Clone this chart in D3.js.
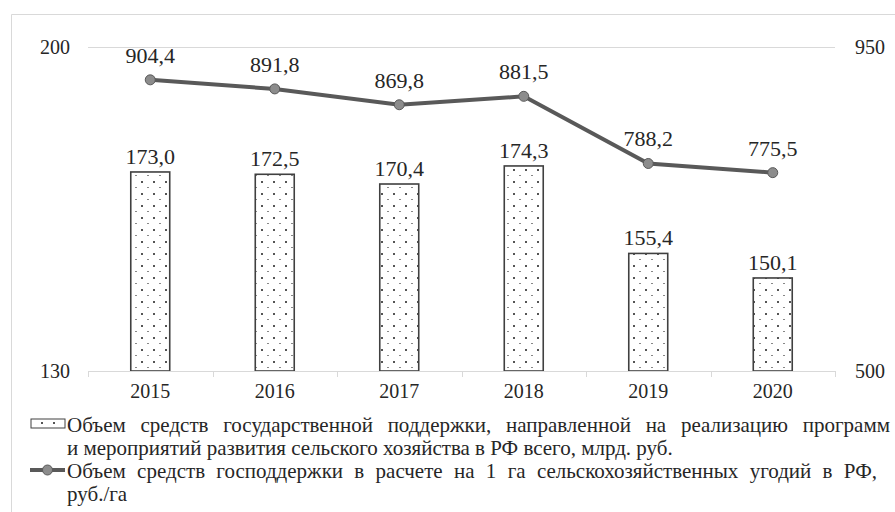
<html>
<head>
<script src="https://cdn.jsdelivr.net/npm/d3@7"></script>
<style>
  body { margin: 0; background: #fff; }
</style>
</head>
<body>
<svg id="chart"></svg>
<script>
// data
let years = ["2015", "2016", "2017", "2018", "2019", "2020"];
let support = [173.0, 172.5, 170.4, 174.3, 155.4, 150.1];   // млрд. руб.
let perHectare = [904.4, 891.8, 869.8, 881.5, 788.2, 775.5]; // руб./га
let leftTicks = [130, 200];
let rightTicks = [500, 950];
let legendBars = ["Объем средств государственной поддержки, направленной на реализацию программ",
                  "и мероприятий развития сельского хозяйства в РФ всего, млрд. руб."];
let legendLine = ["Объем средств господдержки в расчете на 1 га сельскохозяйственных угодий в РФ,",
                  "руб./га"];

let fmt = v => v.toFixed(1).replace(".", ",");
let FONT = "Liberation Serif";
let INK = "#262626";

// justify a legend line to a given width by widening the spaces between words
function justify(sel, target) {
  sel.each(function() {
    if (!target) return;
    let t = d3.select(this);
    let natural = this.getComputedTextLength();
    let spaces = (t.text().match(/ /g) || []).length;
    if (spaces > 0 && natural < target) t.attr("word-spacing", (target - natural) / spaces);
  });
}

function drawChart() {
  let width = 895, height = 512;
  let margin = { top: 47, left: 88, right: 60, bottom: 141 };
  let bodyWidth = width - margin.left - margin.right;   // 747
  let bodyHeight = height - margin.top - margin.bottom; // 324

  let svg = d3.select("#chart").attr("width", width).attr("height", height);

  // chart area frame (only top and left visible)
  svg.append("path")
    .attr("d", "M11.5,512 V14.5 H895")
    .attr("fill", "none").attr("stroke", "#d9d9d9").attr("stroke-width", 1);

  // dotted pattern for the bars
  let defs = svg.append("defs");
  let pat = defs.append("pattern").attr("id", "dots")
    .attr("patternUnits", "userSpaceOnUse")
    .attr("width", 12).attr("height", 12);
  pat.append("rect").attr("width", 12).attr("height", 12).attr("fill", "#fff");
  pat.append("rect").attr("x", 5).attr("y", 2).attr("width", 2).attr("height", 2).attr("fill", "#555");
  pat.append("rect").attr("x", 11).attr("y", 8).attr("width", 1).attr("height", 1).attr("fill", "#888");
  pat.append("rect").attr("x", 0).attr("y", 8).attr("width", 1).attr("height", 1).attr("fill", "#888");

  let xScale = d3.scaleBand().domain(years).range([0, bodyWidth]).padding(0);
  let yLeft = d3.scaleLinear().domain([130, 200]).range([bodyHeight, 0]);
  let yRight = d3.scaleLinear().domain([500, 950]).range([bodyHeight, 0]);

  let body = svg.append("g").attr("transform", `translate(${margin.left},${margin.top})`);

  // top gridline
  body.selectAll(".grid").data(leftTicks.slice(1)).enter().append("line")
    .attr("x1", 0).attr("x2", bodyWidth)
    .attr("y1", d => Math.round(yLeft(d)) + 0.5).attr("y2", d => Math.round(yLeft(d)) + 0.5)
    .attr("stroke", "#d9d9d9");

  // bars
  let barW = xScale.step() * 0.313;
  body.selectAll(".bar").data(support).enter().append("rect")
    .attr("x", (d, i) => xScale(years[i]) + xScale.step() / 2 - barW / 2)
    .attr("y", d => yLeft(d))
    .attr("width", barW)
    .attr("height", d => bodyHeight - yLeft(d))
    .attr("fill", "url(#dots)")
    .attr("stroke", "#404040").attr("stroke-width", 1.6);

  body.selectAll(".barLabel").data(support).enter().append("text")
    .attr("x", (d, i) => xScale(years[i]) + xScale.step() / 2)
    .attr("y", d => yLeft(d) - 8)
    .attr("text-anchor", "middle").attr("font-size", 22)
    .attr("font-family", FONT).attr("fill", INK)
    .text(fmt);

  // x axis
  let axisX = d3.axisBottom(xScale).tickSize(0).tickPadding(13);
  let gx = body.append("g").attr("transform", `translate(0,${bodyHeight})`).call(axisX);
  gx.select(".domain").attr("stroke", "#d9d9d9");
  gx.selectAll("text").attr("font-size", 20).attr("fill", INK).attr("font-family", FONT);
  body.selectAll(".xtick").data(d3.range(years.length + 1)).enter().append("line")
    .attr("x1", d => Math.round(d * xScale.step()) + 0.5)
    .attr("x2", d => Math.round(d * xScale.step()) + 0.5)
    .attr("y1", bodyHeight).attr("y2", bodyHeight + 6)
    .attr("stroke", "#d9d9d9");

  // left and right axes (labels only)
  let axisL = d3.axisLeft(yLeft).tickValues(leftTicks).tickSize(0).tickPadding(18);
  let gl = body.append("g").call(axisL);
  gl.select(".domain").remove();
  gl.selectAll("text").attr("font-size", 20).attr("fill", INK).attr("font-family", FONT);

  let axisR = d3.axisRight(yRight).tickValues(rightTicks).tickSize(0).tickPadding(20);
  let gr = body.append("g").attr("transform", `translate(${bodyWidth},0)`).call(axisR);
  gr.select(".domain").remove();
  gr.selectAll("text").attr("font-size", 20).attr("fill", INK).attr("font-family", FONT);

  // line
  let line = d3.line()
    .x((d, i) => xScale(years[i]) + xScale.step() / 2)
    .y(d => yRight(d));
  body.append("path").datum(perHectare)
    .attr("d", line).attr("fill", "none")
    .attr("stroke", "#595959").attr("stroke-width", 4);
  body.selectAll(".pt").data(perHectare).enter().append("circle")
    .attr("cx", (d, i) => xScale(years[i]) + xScale.step() / 2)
    .attr("cy", d => yRight(d))
    .attr("r", 5)
    .attr("fill", "#8c8c8c").attr("stroke", "#595959").attr("stroke-width", 1);
  body.selectAll(".ptLabel").data(perHectare).enter().append("text")
    .attr("x", (d, i) => xScale(years[i]) + xScale.step() / 2)
    .attr("y", d => yRight(d) - 17)
    .attr("text-anchor", "middle").attr("font-size", 22)
    .attr("font-family", FONT).attr("fill", INK)
    .text(fmt);

  // legend
  let leg = svg.append("g");
  leg.append("rect").attr("x", 31).attr("y", 419).attr("width", 34).attr("height", 9)
    .attr("fill", "url(#dots)").attr("stroke", "#404040").attr("stroke-width", 1);
  leg.selectAll(".l1").data(legendBars).enter().append("text")
    .attr("x", 67).attr("y", (d, i) => 432 + i * 23)
    .attr("font-size", 21).attr("font-family", FONT).attr("fill", INK)
    .text(d => d)
    .filter((d, i) => i == 0).call(justify, 823);
  leg.append("line").attr("x1", 30).attr("x2", 65).attr("y1", 470).attr("y2", 470)
    .attr("stroke", "#595959").attr("stroke-width", 4);
  leg.append("circle").attr("cx", 47.5).attr("cy", 470).attr("r", 5)
    .attr("fill", "#8c8c8c").attr("stroke", "#595959");
  leg.selectAll(".l2").data(legendLine).enter().append("text")
    .attr("x", 67).attr("y", (d, i) => 478 + i * 23)
    .attr("font-size", 21).attr("font-family", FONT).attr("fill", INK)
    .text(d => d)
    .filter((d, i) => i == 0).call(justify, 810);
}

drawChart();
</script>
</body>
</html>
